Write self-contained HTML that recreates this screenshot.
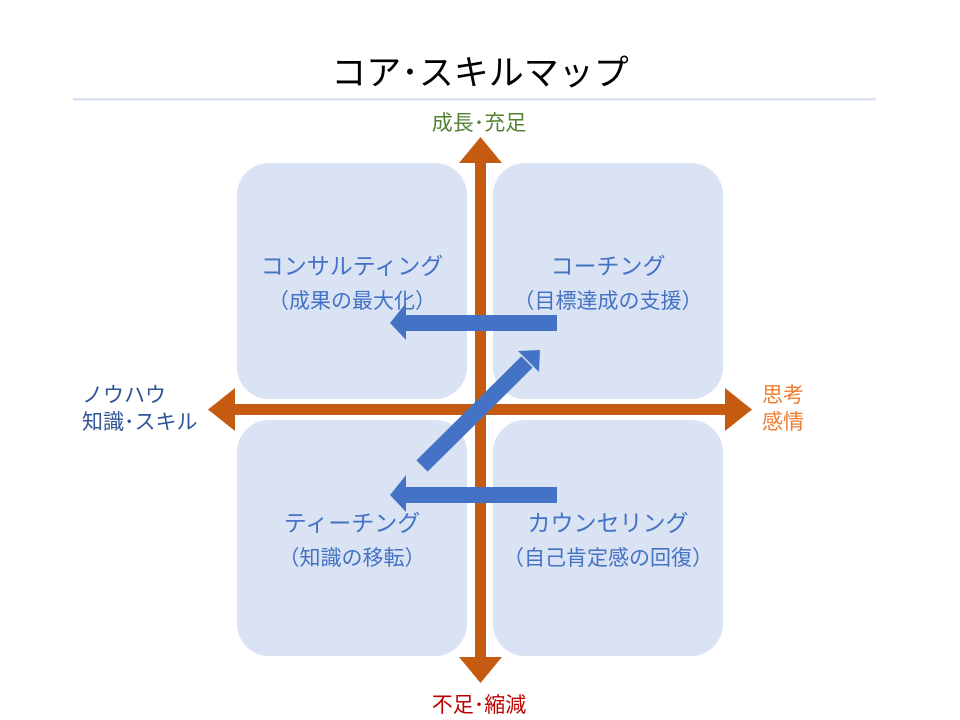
<!DOCTYPE html>
<html><head><meta charset="utf-8"><style>
body{margin:0;background:#fff}
svg{display:block}
text{font-family:"Liberation Sans","Noto Sans CJK JP",sans-serif}
</style></head><body>
<svg width="960" height="720" viewBox="0 0 960 720">
<text x="480" y="85" font-size="35" text-anchor="middle" fill="#000">コア･スキルマップ</text>
<rect x="73" y="98" width="803" height="2.5" fill="#d9e1f2"/>
<g fill="#dae3f3">
<rect x="237" y="163" width="230" height="236" rx="32"/>
<rect x="493" y="163" width="230" height="236" rx="32"/>
<rect x="237" y="420" width="230" height="236" rx="32"/>
<rect x="493" y="420" width="230" height="236" rx="32"/>
</g>
<g fill="#c55a11">
<rect x="475" y="160" width="11" height="500"/>
<polygon points="459,163 480.5,137 502,163"/>
<polygon points="459,657 480.5,683 502,657"/>
<rect x="232" y="404" width="496" height="11"/>
<polygon points="235,388 208,409.5 235,431"/>
<polygon points="725,388 752,409.5 725,431"/>
</g>
<g fill="#4472c4">
<rect x="403" y="315" width="154" height="16"/>
<polygon points="406,303 390,323 406,340"/>
<rect x="403" y="487" width="154" height="16"/>
<polygon points="406,475 390,495 406,512"/>
<line x1="422" y1="466" x2="527" y2="362" stroke="#4472c4" stroke-width="16"/>
<polygon points="518,351 540,350 539,372"/>
</g>
<g font-size="23" fill="#4472c4" text-anchor="middle">
<text x="352" y="274">コンサルティング</text>
<text x="352" y="308" font-size="21">（成果の最大化）</text>
<text x="608" y="274">コーチング</text>
<text x="608" y="308" font-size="21">（目標達成の支援）</text>
<text x="352" y="531">ティーチング</text>
<text x="352" y="565" font-size="21">（知識の移転）</text>
<text x="608" y="531">カウンセリング</text>
<text x="608" y="565" font-size="21">（自己肯定感の回復）</text>
</g>
<g font-size="21">
<text x="479" y="130" text-anchor="middle" fill="#548235">成長･充足</text>
<text x="479" y="712" text-anchor="middle" fill="#c00000">不足･縮減</text>
<text x="82" y="402" fill="#2f5597">ノウハウ</text>
<text x="82" y="429" fill="#2f5597">知識･スキル</text>
<text x="762" y="402" fill="#ed7d31">思考</text>
<text x="762" y="429" fill="#ed7d31">感情</text>
</g>
</svg>
</body></html>
